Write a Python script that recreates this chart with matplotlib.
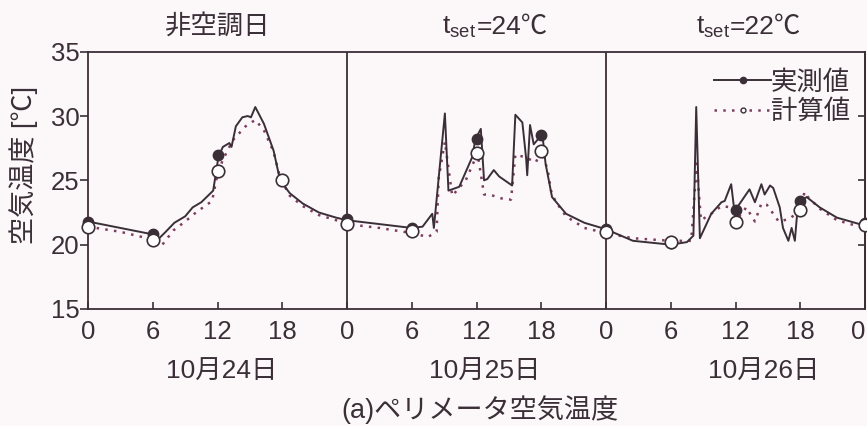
import matplotlib
matplotlib.use("Agg")
import matplotlib.pyplot as plt
from matplotlib.lines import Line2D

plt.rcParams['font.family'] = ['Liberation Sans', 'Noto Sans CJK JP', 'DejaVu Sans']
plt.rcParams['mathtext.fontset'] = 'custom'
plt.rcParams['mathtext.rm'] = 'Liberation Sans'
plt.rcParams['mathtext.it'] = 'Liberation Sans'

# ---- data ----
meas_hours = [0, 3, 6, 6.6, 7.2, 8, 9, 9.7, 10.5, 11.6, 12.1, 12.5, 13.1, 13.3, 13.7, 14.3, 14.8, 15.1,
              15.5, 16.3, 17.2, 17.8, 18.7, 19.9, 21.4, 23.0,
              24, 27, 30, 31.0, 31.9, 32.05, 33.07, 33.4, 34.4, 35.6, 35.9, 36.4, 36.7, 37.0, 37.6,
              38.1, 39.3, 39.6, 40.25, 40.6, 40.7, 40.96, 41.3, 42.1, 42.4, 43.0, 44.3, 46.0,
              48, 50.5, 54, 55.5, 56.1, 56.36, 56.7, 57.75, 58.7, 59.0, 59.6, 59.9, 60.4, 61.3,
              61.8, 62.4, 62.7, 63.2, 63.5, 64.1, 64.4, 64.9, 65.2, 65.5, 65.8, 66.0, 66.6, 67.8,
              69.4, 71.5, 72]
meas_temp = [21.8, 21.3, 20.8, 20.5, 21.0, 21.7, 22.2, 22.9, 23.3, 24.2, 26.9, 27.6, 27.9, 27.6, 29.2,
             29.9, 30.0, 29.9, 30.7, 29.4, 27.3, 25.0, 24.0, 23.2, 22.5, 22.1,
             21.9, 21.6, 21.3, 21.4, 22.4, 21.3, 30.2, 24.2, 24.5, 26.8, 28.2, 29.0, 25.0, 25.1, 25.8,
             25.3, 24.6, 30.1, 29.5, 26.7, 25.4, 29.3, 27.8, 28.6, 26.3, 23.7, 22.4, 21.7,
             21.2, 20.3, 20.0, 20.2, 20.7, 30.7, 20.5, 22.4, 23.3, 23.4, 24.7, 22.6, 23.2, 24.3,
             23.3, 24.7, 23.9, 24.6, 24.4, 22.9, 21.3, 20.3, 21.3, 20.3, 23.3, 23.4, 23.7, 22.9,
             22.1, 21.6, 21.6]

calc_hours = [0, 3, 6, 6.8, 7.9, 9, 10, 11.5, 12, 12.5, 13.4, 14.6, 15.5, 16.3, 17.2, 17.8, 18.7,
              19.9, 21.4, 23,
              24, 27, 30, 31.5, 32.3, 32.5, 33.07, 33.75, 35.0, 36.1, 36.7, 37.2, 38.3, 39.2,
              39.6, 40.5, 41.5, 42.0, 42.6, 42.9, 43.3, 44.3, 46.0,
              48, 50.5, 54, 55.9, 56.4, 56.8, 57.75, 58.7, 59.6, 60.0, 61.0, 61.5, 61.8, 62.4,
              62.9, 63.5, 64.0, 65.0, 66.0, 66.4, 66.6, 67.8, 69.4, 71.5, 72]
calc_temp = [21.4, 21.0, 20.4, 19.9, 21.1, 21.8, 22.5, 23.4, 25.5, 26.6, 28.1, 29.2, 29.7, 28.9, 27.2,
             25.2, 23.8, 23.0, 22.3, 21.9,
             21.6, 21.3, 20.9, 20.6, 21.0, 25.2, 28.0, 23.8, 25.0, 27.1, 23.9, 23.9, 23.6, 23.5,
             27.0, 26.8, 26.4, 27.3, 25.8, 24.2, 23.4, 22.2, 21.3,
             20.9, 20.5, 20.3, 20.3, 26.3, 21.9, 22.4, 23.0, 22.9, 21.8, 22.9, 22.2, 21.8, 23.2,
             23.1, 22.4, 21.8, 22.0, 22.7, 24.1, 23.8, 22.8, 21.9, 21.4, 21.4]

mark_hours = [0, 6, 12, 18, 24, 30, 36, 42, 48, 54, 60, 66, 72]
meas_mark = [21.8, 20.8, 27.0, 25.0, 22.0, 21.3, 28.2, 28.5, 21.2, 20.1, 22.7, 23.4, 21.7]
calc_mark = [21.4, 20.4, 25.7, 25.0, 21.6, 21.1, 27.1, 27.3, 21.0, 20.2, 21.8, 22.7, 21.5]

xticks = [0, 6, 12, 18, 24, 30, 36, 42, 48, 54, 60, 66, 72]
xticklabels = ['0', '6', '12', '18', '0', '6', '12', '18', '0', '6', '12', '18', '0']
yticks = [15, 20, 25, 30, 35]
title1 = '非空調日'
title_sub = r'$\mathrm{t_{set}}$'
title_vals = ['=24℃', '=22℃']
day_labels = ['10月24日', '10月25日', '10月26日']
legend_labels = ['実測値', '計算値']
ylabel = '空気温度 [℃]'
caption = '(a)ペリメータ空気温度'

# ---- style ----
ink = '#3b2f37'
dot_col = '#7d3d5e'
bg = '#fcf8fa'

fig = plt.figure(figsize=(8.67, 4.26), dpi=100, facecolor=bg)
ax = fig.add_axes([88 / 867, 117 / 426, 777 / 867, 257.3 / 426])
ax.set_facecolor(bg)

ax.plot(meas_hours, meas_temp, color=ink, lw=1.4, zorder=3)
ax.plot(calc_hours, calc_temp, color=dot_col, lw=1.8, linestyle=(0, (1, 2.5)), zorder=2)
ax.plot(mark_hours, meas_mark, 'o', color=ink, ms=7.5, zorder=4, clip_on=False)
ax.plot(mark_hours, calc_mark, 'o', mfc='white', mec=ink, mew=1.2, ms=9, zorder=5, clip_on=False)

for d in (24, 48):
    ax.axvline(d, color=ink, lw=1.3, zorder=1)

ax.set_xlim(0, 72)
ax.set_ylim(15, 35)
ax.set_xticks(xticks)
ax.set_xticklabels(xticklabels)
ax.set_yticks(yticks)
for s in ax.spines.values():
    s.set_color(ink)
    s.set_linewidth(1.3)
ax.tick_params(axis='x', direction='in', length=5, width=1.2, colors=ink, labelsize=18.5, pad=8)
ax.tick_params(axis='y', direction='out', length=6, width=1.2, colors=ink, labelsize=18.5, pad=0)
ax.get_xticklabels()[-1].set_ha('right')

sec = ax.secondary_yaxis('right')
sec.set_yticks([20, 25, 30])
sec.tick_params(direction='in', length=5, width=1.2, colors=ink, labelright=False)
sec.spines['right'].set_color(ink)
sec.spines['right'].set_linewidth(1.3)

tx = ax.get_xaxis_transform()
ax.text(12, 1.07, title1, transform=tx, ha='center', va='baseline', fontsize=19, color=ink)
for xc, t in zip([36.0, 59.5], title_vals):
    ax.text(xc, 1.07, title_sub, transform=tx, ha='right', va='baseline', fontsize=19, color=ink)
    ax.text(xc, 1.07, t, transform=tx, ha='left', va='baseline', fontsize=19, color=ink)
for xc, t in zip([12.4, 36.8, 62.6], day_labels):
    ax.text(xc, -0.245, t, transform=tx, ha='center', va='center', fontsize=19, color=ink)

fig.text(480 / 867, 1 - 410 / 426, caption, ha='center', va='center', fontsize=19.5, color=ink)
fig.text(24 / 867, 1 - 165 / 426, ylabel, ha='center', va='center', rotation=90, fontsize=19.5, color=ink)

handles = [Line2D([], [], color=ink, lw=1.4, marker='o', ms=4.5),
           Line2D([], [], color=dot_col, lw=1.8, linestyle=(0, (1, 2.5)), marker='o', ms=3.5,
                  mfc='white', mec=ink, mew=1)]
ax.legend(handles, legend_labels, loc='upper right', bbox_to_anchor=(0.998, 0.98), frameon=False,
          fontsize=19, handlelength=2.15, handletextpad=0.0, labelspacing=0.18, borderpad=0,
          labelcolor=ink)

fig.savefig('out.png', dpi=100, facecolor=bg)
